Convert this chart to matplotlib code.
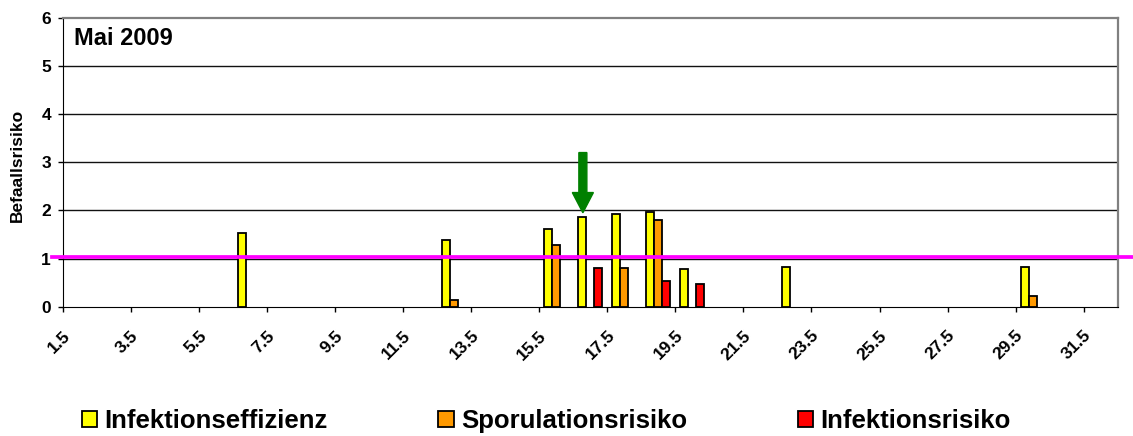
import matplotlib
matplotlib.use('Agg')
import matplotlib.pyplot as plt
import matplotlib.transforms as mtransforms
from matplotlib.patches import Patch, FancyArrow

plt.rcParams['font.family'] = ['Liberation Sans', 'DejaVu Sans']
plt.rcParams['font.weight'] = 'bold'

# values (day of May, risk value)
days = [7, 13, 16, 17, 18, 19, 20, 23, 30]
infektionseffizienz = [1.52, 1.39, 1.62, 1.86, 1.93, 1.97, 0.78, 0.82, 0.82]
sporulationsrisiko = [0, 0.13, 1.28, 0, 0.81, 1.80, 0, 0, 0.22]
infektionsrisiko = [0, 0, 0, 0.81, 0, 0.54, 0.47, 0, 0]

series_names = ['Infektionseffizienz', 'Sporulationsrisiko', 'Infektionsrisiko']
series_colors = ['#FFFF00', '#FF9900', '#FF0000']

xtick_pos = [1.5 + 2 * i for i in range(16)]
xtick_labels = ['%.1f' % v for v in xtick_pos]
yticks = [0, 1, 2, 3, 4, 5, 6]

threshold = 1.04
arrow_day = 16.78
arrow_top = 3.2
arrow_tip = 1.95

fig = plt.figure(figsize=(11.33, 4.36), dpi=100)
ax = fig.add_axes([63/1133, 1 - 306.7/436, 1054.7/1133, 289/436])

bw = 0.235
for k, vals in enumerate([infektionseffizienz, sporulationsrisiko, infektionsrisiko]):
    xs = [d + (k - 1) * bw for d, v in zip(days, vals) if v > 0]
    hs = [v for v in vals if v > 0]
    ax.bar(xs, hs, width=bw, color=series_colors[k], edgecolor='black',
           linewidth=1.3, zorder=3)

# threshold line (runs a bit past the plot area)
ax.plot([1.18, 33.0], [threshold, threshold], color='#FF00FF', lw=2.7,
        clip_on=False, zorder=5)

# green arrow
arr = FancyArrow(arrow_day, arrow_top, 0, arrow_tip - arrow_top, width=0.235,
                 head_width=0.62, head_length=0.42, length_includes_head=True,
                 color='#008000', zorder=6)
ax.add_patch(arr)

ax.set_xlim(1.5, 32.5)
ax.set_ylim(0, 6)
ax.set_yticks(yticks)
ax.set_yticklabels([str(v) for v in yticks], fontsize=12.5, fontweight='bold')
ax.set_xticks(xtick_pos)
ax.set_xticklabels(xtick_labels, rotation=45, ha='right', va='center',
                   rotation_mode='anchor', fontsize=12.5, fontweight='bold')
ax.tick_params(axis='x', length=3.6, width=1, pad=15.5, color='black')
ax.tick_params(axis='y', length=3.6, width=1, pad=5, color='black')
offset = mtransforms.ScaledTranslation(0.05, 0, fig.dpi_scale_trans)
for lab in ax.get_xticklabels():
    lab.set_transform(lab.get_transform() + offset)

for y in yticks[1:-1]:
    ax.axhline(y, color='#111111', lw=1.0, zorder=1)

ax.spines['left'].set_color('black')
ax.spines['bottom'].set_color('black')
ax.spines['top'].set_color('#808080')
ax.spines['right'].set_color('#808080')
ax.spines['top'].set_linewidth(1.6)
ax.spines['right'].set_linewidth(1.6)

ax.set_ylabel('Befaallsrisiko', fontsize=12.5, fontweight='bold')
ax.yaxis.set_label_coords(-0.036, 0.49)

ax.text(0.0104, 0.967, 'Mai 2009', transform=ax.transAxes, fontsize=17,
        fontweight='bold', va='top', ha='left')

handles = [Patch(facecolor=c, edgecolor='black', linewidth=1.3) for c in series_colors]
fig.legend(handles, series_names, loc='center left', bbox_to_anchor=(82/1133, 15/436),
           ncol=3, frameon=False, handlelength=0.6, handleheight=0.6,
           handletextpad=0.28, columnspacing=4.3, borderpad=0, borderaxespad=0,
           prop={'weight': 'bold', 'size': 18.5})

fig.savefig('out.png', dpi=100)
